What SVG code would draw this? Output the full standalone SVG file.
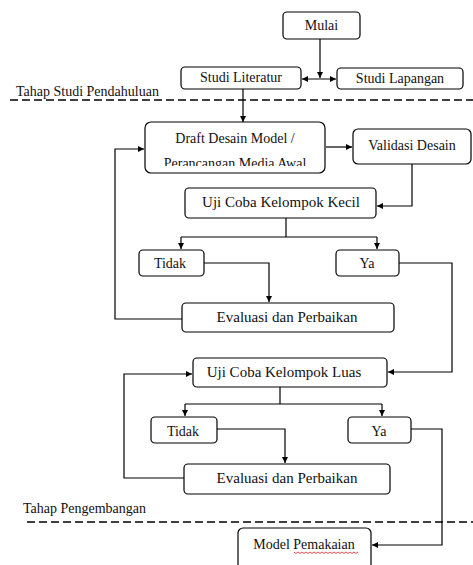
<svg xmlns="http://www.w3.org/2000/svg" width="473" height="565" viewBox="0 0 473 565">
<defs>
<style>
.box{fill:#fff;stroke:#000;stroke-width:1.2}
.t{font-family:"Liberation Serif","Times New Roman",serif;font-size:14px;fill:#111;text-anchor:middle}
.l{font-family:"Liberation Serif","Times New Roman",serif;font-size:14px;fill:#111}
.big{font-size:15px}
.c{fill:none;stroke:#000;stroke-width:1.2}
.a{fill:none;stroke:#000;stroke-width:1.2;marker-end:url(#ah)}
.d{fill:none;stroke:#000;stroke-width:1.3;stroke-dasharray:8 4}
</style>
<marker id="ah" markerUnits="userSpaceOnUse" markerWidth="7" markerHeight="7" refX="6" refY="3" orient="auto-start-reverse">
<path d="M0,0 L6,3 L0,6 z" fill="#000"/>
</marker>
<clipPath id="draftClip"><rect x="145" y="122" width="180" height="44"/></clipPath>
</defs>
<rect width="473" height="565" fill="#fff"/>

<g id="sections">
<text class="l" x="16" y="96">Tahap Studi Pendahuluan</text>
<path class="d" d="M10,100 H473"/>
<text class="l" x="23" y="513">Tahap Pengembangan</text>
<path class="d" d="M27,522 H473"/>
</g>

<g id="connectors">
<path class="a" d="M320,39 V78"/>
<path class="c" d="M302,79 H336" marker-start="url(#ah)" marker-end="url(#ah)"/>
<path class="a" d="M243,89 V122"/>
<path class="a" d="M326,147 H352"/>
<path class="a" d="M412,164 V206 H377"/>
<path class="c" d="M286,218 V237 M181,237 H377"/>
<path class="a" d="M181,237 V249"/>
<path class="a" d="M377,237 V249"/>
<path class="a" d="M204,263 H269 V302"/>
<path class="a" d="M182,319 H115 V149 H144"/>
<path class="a" d="M399,263 H452 V372 H388"/>
<path class="c" d="M280,387 V404 M185,404 H382"/>
<path class="a" d="M185,404 V416"/>
<path class="a" d="M382,404 V416"/>
<path class="a" d="M217,429 H285 V463"/>
<path class="a" d="M184,478 H124 V374 H192"/>
<path class="a" d="M411,429 H442 V545 H372"/>
</g>

<g id="mulai">
<rect class="box" x="283" y="12" width="77" height="27" rx="4"/>
<text class="t" x="321.5" y="30">Mulai</text>
</g>
<g id="studi-literatur">
<rect class="box" x="181" y="67" width="120" height="22" rx="4"/>
<text class="t" x="241" y="82">Studi Literatur</text>
</g>
<g id="studi-lapangan">
<rect class="box" x="337" y="68" width="126" height="21" rx="4"/>
<text class="t" x="400" y="83">Studi Lapangan</text>
</g>
<g id="draft">
<rect class="box" x="145" y="122" width="180" height="51" rx="6"/>
<text class="t" x="235" y="143">Draft Desain Model /</text>
<text class="t" x="235" y="168" clip-path="url(#draftClip)">Perancangan Media Awal</text>
</g>
<g id="validasi">
<rect class="box" x="353" y="129" width="118" height="35" rx="5"/>
<text class="t" x="412" y="150">Validasi Desain</text>
</g>
<g id="uji-kecil">
<rect class="box" x="185" y="188" width="191" height="30" rx="4"/>
<text class="t big" x="281" y="207">Uji Coba Kelompok Kecil</text>
</g>
<g id="tidak-1">
<rect class="box" x="139" y="250" width="65" height="26" rx="4"/>
<text class="t" x="170" y="268">Tidak</text>
</g>
<g id="ya-1">
<rect class="box" x="336" y="250" width="63" height="26" rx="4"/>
<text class="t" x="367" y="268">Ya</text>
</g>
<g id="evaluasi-1">
<rect class="box" x="182" y="303" width="212" height="29" rx="4"/>
<text class="t big" x="287" y="322">Evaluasi dan Perbaikan</text>
</g>
<g id="uji-luas">
<rect class="box" x="193" y="358" width="194" height="29" rx="4"/>
<text class="t big" x="284" y="377">Uji Coba Kelompok Luas</text>
</g>
<g id="tidak-2">
<rect class="box" x="151" y="417" width="66" height="26" rx="4"/>
<text class="t" x="183" y="436">Tidak</text>
</g>
<g id="ya-2">
<rect class="box" x="348" y="417" width="63" height="26" rx="4"/>
<text class="t" x="379" y="436">Ya</text>
</g>
<g id="evaluasi-2">
<rect class="box" x="184" y="464" width="206" height="30" rx="4"/>
<text class="t big" x="287" y="483">Evaluasi dan Perbaikan</text>
</g>
<g id="model">
<rect class="box" x="238" y="528" width="133" height="45" rx="5"/>
<text class="t" x="304" y="549">Model Pemakaian</text>
<path d="M294,552 l2,1.5 l2,-1.5 l2,1.5 l2,-1.5 l2,1.5 l2,-1.5 l2,1.5 l2,-1.5 l2,1.5 l2,-1.5 l2,1.5 l2,-1.5 l2,1.5 l2,-1.5 l2,1.5 l2,-1.5 l2,1.5 l2,-1.5 l2,1.5 l2,-1.5 l2,1.5 l2,-1.5 l2,1.5 l2,-1.5 l2,1.5 l2,-1.5 l2,1.5 l2,-1.5 l2,1.5 l2,-1.5 l2,1.5 l2,-1.5" fill="none" stroke="#e02020" stroke-width="0.8"/>
</g>
</svg>
